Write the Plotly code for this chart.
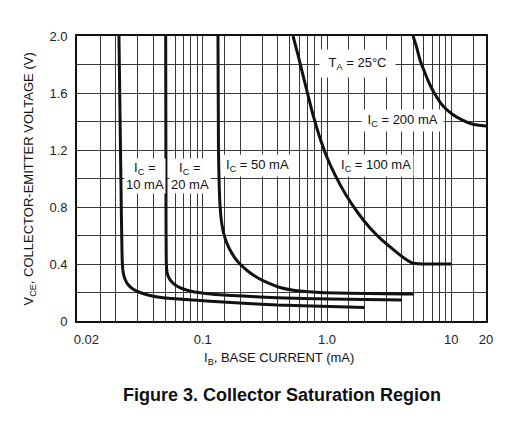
import plotly.graph_objects as go

# ---- data ----
ib_10 = [0.02121, 0.02182, 0.02222, 0.02255, 0.02297, 0.02371, 0.02506, 0.02749, 0.0313,
         0.03767, 0.04792, 0.08356, 0.1568, 0.3961, 1.057, 2.0]
vce_10 = [2.0, 1.2, 0.709, 0.414, 0.337, 0.295, 0.256, 0.225, 0.200,
          0.179, 0.163, 0.147, 0.131, 0.112, 0.102, 0.095]

ib_20 = [0.05039, 0.05067, 0.05095, 0.05162, 0.05356, 0.05662, 0.06099, 0.06818, 0.07906,
         0.09512, 0.121, 0.211, 0.3961, 1.057, 4.0]
vce_20 = [2.0, 0.849, 0.414, 0.344, 0.302, 0.274, 0.249, 0.228, 0.211,
          0.198, 0.188, 0.175, 0.163, 0.154, 0.147]

ib_50 = [0.1327, 0.134, 0.1378, 0.143, 0.1511, 0.1628, 0.1819, 0.2033, 0.2358,
         0.2786, 0.3352, 0.4185, 0.5529, 0.8785, 5.0]
vce_50 = [2.0, 1.2, 0.814, 0.674, 0.583, 0.512, 0.442, 0.393, 0.344,
          0.302, 0.267, 0.235, 0.214, 0.200, 0.189]

ib_100 = [0.533, 0.584, 0.641, 0.703, 0.772, 0.862, 0.982, 1.16, 1.422,
          1.776, 2.218, 2.771, 3.459, 4.164, 4.828, 5.81, 10.0]
vce_100 = [2.0, 1.867, 1.726, 1.586, 1.446, 1.305, 1.165, 1.025, 0.884,
           0.758, 0.653, 0.568, 0.498, 0.442, 0.407, 0.40, 0.40]

ib_200 = [4.92, 5.2, 5.6, 6.14, 6.74, 7.53, 8.58, 10.13, 12.19, 14.67, 19.02, 20.0]
vce_200 = [2.0, 1.937, 1.832, 1.740, 1.656, 1.579, 1.509, 1.453, 1.411, 1.382, 1.368, 1.367]

x_tick_vals = [0.0116, 0.1, 1.0, 10.0, 19.0]
x_tick_text = ["0.02", "0.1", "1.0", "10", "20"]
x_grid_vals = [0.015, 0.02, 0.03, 0.04, 0.05, 0.06, 0.07, 0.08, 0.09,
               0.1, 0.15, 0.2, 0.3, 0.4, 0.5, 0.6, 0.7, 0.8, 0.9,
               1.0, 1.5, 2, 3, 4, 5, 6, 7, 8, 9, 10, 15]
y_tick_vals = [0, 0.4, 0.8, 1.2, 1.6, 2.0]
y_tick_text = ["0", "0.4", "0.8", "1.2", "1.6", "2.0"]

FONT = "Liberation Sans, Arial, Helvetica, sans-serif"
GRID = "#383838"
GW = 1.4

fig = go.Figure()
for xs, ys in [(ib_10, vce_10), (ib_20, vce_20), (ib_50, vce_50), (ib_100, vce_100), (ib_200, vce_200)]:
    fig.add_trace(go.Scatter(x=xs, y=ys, mode="lines",
                             line=dict(color="#111111", width=3, shape="spline", smoothing=0.5),
                             showlegend=False, hoverinfo="skip"))

fig.update_xaxes(type="log", range=[-2.011, 1.279],
                 tickmode="array", tickvals=x_tick_vals, ticktext=x_tick_text,
                 showgrid=False, zeroline=False,
                 ticks="outside", ticklen=6, tickcolor="rgba(0,0,0,0)",
                 tickfont=dict(family=FONT, size=13, color="#222"),
                 showline=True, mirror=True, linecolor="#111", linewidth=1.6,
                 minor=dict(tickmode="array", tickvals=x_grid_vals, showgrid=True,
                            gridcolor=GRID, gridwidth=GW, ticks=""))
fig.update_yaxes(range=[0, 2.0], tickmode="array", tickvals=y_tick_vals, ticktext=y_tick_text,
                 showgrid=True, gridcolor=GRID, gridwidth=GW, zeroline=False,
                 ticks="outside", ticklen=5, tickcolor="rgba(0,0,0,0)",
                 tickfont=dict(family=FONT, size=13, color="#222"),
                 showline=True, mirror=True, linecolor="#111", linewidth=1.6,
                 minor=dict(dtick=0.2, showgrid=True, gridcolor=GRID, gridwidth=GW, ticks=""))

def lab(text, x, y, pad=2):
    fig.add_annotation(text=text, xref="paper", yref="paper", x=x, y=y,
                       xanchor="center", yanchor="middle",
                       showarrow=False, bgcolor="white", borderpad=pad,
                       font=dict(family=FONT, size=13, color="#111"))

lab("\u00a0T<sub>A</sub> = 25°C\u00a0", 0.685, 0.905, pad=5)
lab("\u00a0I<sub>C</sub> = 200 mA\u00a0", 0.795, 0.705, pad=2)
lab("I<sub>C</sub> = 100 mA", 0.731, 0.547)
lab("I<sub>C</sub> = 50 mA", 0.441, 0.547)
lab("I<sub>C</sub> =<br>20 mA", 0.276, 0.509, pad=1)
lab("I<sub>C</sub> =<br>10 mA", 0.166, 0.509, pad=1)

def txt(text, x, y, size=13, angle=0):
    fig.add_annotation(text=text, xref="paper", yref="paper", x=x, y=y,
                       xanchor="center", yanchor="middle", textangle=angle, showarrow=False,
                       font=dict(family=FONT, size=size, color="#111"))

txt("V<sub>CE</sub>, COLLECTOR-EMITTER VOLTAGE (V)", -0.115, 0.5, angle=-90)
txt("I<sub>B</sub>, BASE CURRENT (mA)", 0.494, -0.13)
txt("<b>Figure 3. Collector Saturation Region</b>", 0.502, -0.26, size=18)

fig.update_layout(width=500, height=423, margin=dict(l=69, r=22, t=28, b=110),
                  paper_bgcolor="white", plot_bgcolor="white")
fig.write_html("out.html")
